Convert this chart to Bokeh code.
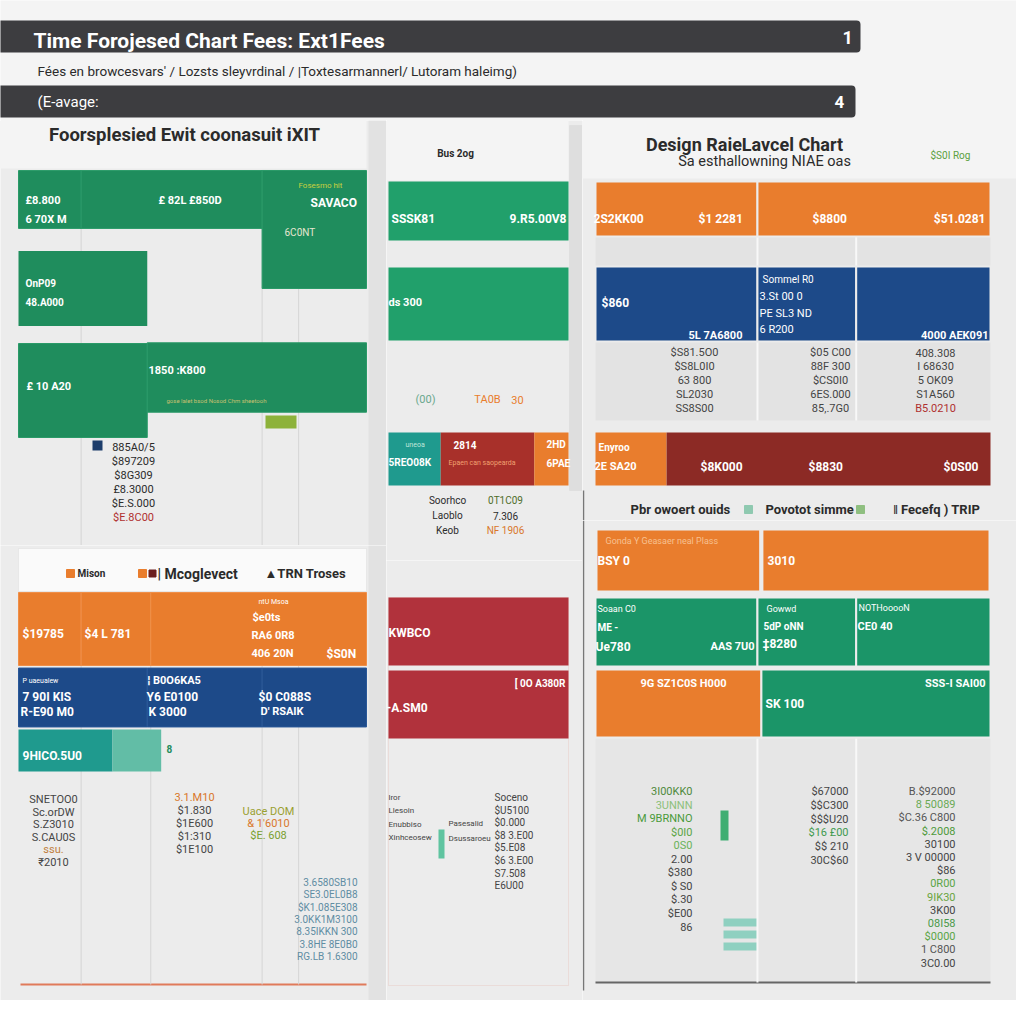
import numpy as np
from bokeh.plotting import figure
from bokeh.models import Range1d, Label, BoxAnnotation
from bokeh.layouts import column, row
from bokeh.embed import file_html
from bokeh.resources import INLINE
from bokeh.core.properties import value

# ---------------------------------------------------------------- data
header_title = "Time Forojesed  Chart Fees: Ext1Fees"
header_subtitle = "Fées en browcesvars' /  Lozsts sleyvrdinal / |Toxtesarmannerl/ Lutoram haleimg)"
header_section = "(E-avage:"
header_pages = ["1", "4"]

# panel 1 (top left)
p1_title = "Foorsplesied Ewit coonasuit iXIT"
p1_row_a = [18, 52, 30]
p1_row_b = [37]
p1_row_c = [37, 63]
p1_ticks = [18, 70, 80.5]
p1_list = ["885A0/5", "$897209", "$8G309", "£8.3000", "$E.S.000", "$E.8C00"]

# panel 2 (top middle)
p2_title = "Bus 2og"
p2_row_a = [100]
p2_row_b = [100]
p2_row_c = [29, 52, 19]
p2_list_left = ["Soorhco", "Laoblo", "Keob"]
p2_list_right = ["0T1C09", "7.306", "NF 1906"]

# panel 3 (top right)
p3_title = "Design RaieLavcel Chart"
p3_subtitle = "Sa esthallowning NIAE oas"
p3_note = "$S0I Rog"
p3_row_a = [41, 59]
p3_row_b = [41, 25, 34]
p3_row_c = [18, 82]
p3_list_1 = ["$S81.5O0", "$S8L0I0", "63 800", "SL2030", "SS8S00"]
p3_list_2 = ["$05 C00", "88F 300", "$CS0I0", "6ES.000", "85,.7G0"]
p3_list_3 = ["408.308", "I 68630", "5 OK09", "S1A560", "B5.0210"]
p3_legend = ["Pbr owoert ouids", "Povotot simme", "‖ Fecefq ) TRIP"]

# panel 4 (bottom left)
p4_legend = ["Mison", "| Mcoglevect", "▲TRN Troses"]
p4_row_a = [18, 20, 62]
p4_row_b = [37, 33, 30]
p4_row_c = [27, 14]
p4_ticks = [18, 38, 70, 80.5]
p4_list_1 = ["SNETOO0", "Sc.orDW", "S.Z3010", "S.CAU0S", "ssu.", "₹2010"]
p4_list_2 = ["3.1.M10", "$1.830", "$1E600", "$1:310", "$1E100"]
p4_list_3 = ["Uace DOM", "& 1'6010", "$E. 608"]
p4_list_4 = ["3.6580SB10", "SE3.0EL0B8", "$K1.085E308", "3.0KK1M3100",
             "8.35IKKN 300", "3.8HE 8E0B0", "RG.LB 1.6300"]

# panel 5 (bottom middle)
p5_row_a = [100]
p5_row_b = [100]
p5_list_left = ["lror", "Llesoin", "Enubbiso", "Xinhceosew"]
p5_list_mid = ["Pasesalid", "Dsussaroeu"]
p5_list_right = ["Soceno", "$U5100", "$0.000", "$8 3.E00", "$5.E08", "$6 3.E00", "S7.508", "E6U00"]

# panel 6 (bottom right)
p6_note = "Gonda Y Geasaer neal Plass"
p6_row_a = [42, 58]
p6_row_b = [41, 25, 34]
p6_row_c = [42, 58]
p6_list_1 = ["3I00KK0", "3UNNN", "M 9BRNNO", "$0I0", "0S0", "2.00", "$380", "$ S0", "$.30", "$E00", "86"]
p6_list_2 = ["$67000", "$$C300", "$$$U20", "$16 £00", "$$ 210", "30C$60"]
p6_list_3 = ["B.$92000", "8 50089", "$C.36 C800", "$.2008", "30100", "3 V 00000", "$86",
             "0R00", "9IK30", "3K00", "08I58", "$0000", "1 C800", "3C0.00"]

# ---------------------------------------------------------------- style
FONT = "Roboto"
BG = "#ececec"
HBG = "#f4f4f4"
DARK = "#3d3d40"
GREEN = "#1f8d5d"
GREEN2 = "#21a06b"
GREEN3 = "#1b9568"
ORANGE = "#e97d2d"
BLUE = "#1d4a89"
DRED = "#8c2a25"
RED = "#b1323c"
TEAL = "#1f9a8e"
LTEAL = "#62bda6"
TXT = "#2b2b2b"


def base_fig(w, h, xr, yr, bg):
    p = figure(width=w, height=h, x_range=xr, y_range=yr, output_backend="svg",
               toolbar_location=None, x_axis_location=None, y_axis_location=None,
               min_border=0, background_fill_color=bg, border_fill_color=bg,
               outline_line_color=None)
    p.grid.visible = False
    return p


class Panel:
    """A panel whose x axis is a 0-100 value scale and whose y axis counts rows."""

    def __init__(self, ox, oy, w, h, bar_l, bar_r, row0, pitch, bg=BG):
        self.ox, self.oy = ox, oy
        self.ppu = (bar_r - bar_l) / 100.0
        self.x0 = bar_l - ox
        self.y0 = row0 - oy
        self.pitch = pitch
        xr = Range1d(-self.x0 / self.ppu, (w - self.x0) / self.ppu)
        yr = Range1d((h - self.y0) / pitch, -self.y0 / pitch)
        self.p = base_fig(w, h, xr, yr, bg)

    def X(self, rx):
        return (rx - self.ox - self.x0) / self.ppu

    def Y(self, ry):
        return (ry - self.oy - self.y0) / self.pitch

    def stack(self, values, y, height, colors, line_color=None, line_width=0):
        vals = np.asarray(values, float)
        n = len(vals)
        lefts = np.concatenate([[0.0], np.cumsum(vals)[:-1]])
        ys = list(np.broadcast_to(np.asarray(y, float), (n,)))
        hs = list(np.broadcast_to(np.asarray(height, float), (n,)))
        cols = colors if isinstance(colors, list) else [colors] * n
        self.p.hbar(y=ys, left=list(lefts), right=list(lefts + vals), height=hs,
                    fill_color=cols, line_color=line_color, line_width=line_width)

    def ticks(self, xs, rt, rb, color="#d5d5d5", width=1):
        self.p.segment(x0=list(xs), x1=list(xs), y0=[self.Y(rt)] * len(xs),
                       y1=[self.Y(rb)] * len(xs), line_color=color, line_width=width)

    def label(self, rx, ry, text, color="white", size=11, bold=True, align="left"):
        self.p.add_layout(Label(x=self.X(rx), y=self.Y(ry), text=text, text_color=color,
                                text_font_size=f"{size}px",
                                text_font_style="bold" if bold else "normal",
                                text_align=align, text_baseline="middle", text_font=FONT))

    def texts(self, rx, ry0, step, items, colors=TXT, size=11, align="center", bold=False):
        n = len(items)
        cols = colors if isinstance(colors, list) else [colors] * n
        self.p.text(x=[self.X(rx)] * n, y=[self.Y(ry0 + i * step) for i in range(n)],
                    text=items, text_color=cols, text_font_size=f"{size}px",
                    text_align=align, text_baseline="middle", text_font=value(FONT),
                    text_font_style="bold" if bold else "normal")

    def box(self, rl, rr, rt, rb, fill, line=None, lw=1):
        self.p.add_layout(BoxAnnotation(left=self.X(rl), right=self.X(rr), top=self.Y(rt),
                                        bottom=self.Y(rb), fill_color=fill,
                                        fill_alpha=1 if fill else 0,
                                        line_color=line, line_width=lw, level="underlay"))

    def squares(self, rxs, ry, colors, size=9):
        self.p.scatter(x=[self.X(v) for v in rxs], y=[self.Y(ry)] * len(rxs),
                       marker="square", size=size, color=colors)


# ---------------------------------------------------------------- header
hdr = base_fig(1016, 120, Range1d(0, 1016), Range1d(120, 0), HBG)
hdr.add_layout(BoxAnnotation(left=-5, right=860, top=20, bottom=52, fill_color=DARK,
                             fill_alpha=1, line_color=None, border_radius=4))
hdr.add_layout(BoxAnnotation(left=-5, right=855, top=85, bottom=117, fill_color=DARK,
                             fill_alpha=1, line_color=None, border_radius=4))
hdr.add_layout(Label(x=33, y=40, text=header_title, text_color="white", text_font_size="21px",
                     text_font_style="bold", text_baseline="middle", text_font=FONT))
hdr.add_layout(Label(x=842, y=37, text=header_pages[0], text_color="white", text_font_size="18px",
                     text_font_style="bold", text_baseline="middle", text_font=FONT))
hdr.add_layout(Label(x=37, y=70, text=header_subtitle, text_color=TXT, text_font_size="13.5px",
                     text_baseline="middle", text_font=FONT))
hdr.add_layout(Label(x=37, y=101, text=header_section, text_color="white", text_font_size="15px",
                     text_baseline="middle", text_font=FONT))
hdr.add_layout(Label(x=834, y=101, text=header_pages[1], text_color="white", text_font_size="17px",
                     text_font_style="bold", text_baseline="middle", text_font=FONT))

# ---------------------------------------------------------------- panel 1
P1 = Panel(0, 120, 386, 425, 18, 366, 199, 89)
P1.box(0, 366, 120, 168, HBG)
P1.box(368, 386, 120, 545, "#e2e2e2")
P1.ticks(p1_ticks, 170, 545)
P1.stack(p1_row_a, [0, 0, 0.337], [0.65, 0.65, 1.326], GREEN, "#2a9a68", 1)
P1.stack(p1_row_b, 1, 0.84, GREEN)
P1.stack(p1_row_c, [2.146, 2], [1.056, 0.78], GREEN, "#2a9a68", 1)
P1.label(184, 134, p1_title, TXT, 18.5, True, "center")
P1.label(25, 200, "£8.800", size=11)
P1.label(25, 219, "6 70X M", size=11)
P1.label(158, 200, "£ 82L £850D", size=11)
P1.label(298, 185, "Fosesmo hit", "#c8d040", 8, False)
P1.label(310, 202, "SAVACO", size=12)
P1.label(284, 232, "6C0NT", "#e6e6d0", 10, False)
P1.label(25, 283, "OnP09", size=10)
P1.label(25, 302, "48.A000", size=10)
P1.label(26, 386, "£ 10 A20", size=11)
P1.label(148, 370, "1850 :K800", size=11)
P1.label(166, 400, "gose lalet bsod Nosod Chm sheetooh", "#c8c070", 6, False)
P1.box(265, 296, 415, 428, "#8db23a")
P1.box(92, 102, 440, 450, "#1d3d6b")
P1.texts(133, 447, 14, p1_list, [TXT] * 5 + ["#b03030"], 11)

# ---------------------------------------------------------------- panel 2
P2 = Panel(386, 120, 196, 440, 388, 568, 210.5, 93)
P2.box(386, 568, 120, 180, HBG)
P2.box(569, 590, 125, 490, "#dedede", "#cfcfcf")
P2.stack(p2_row_a, 0, 0.634, GREEN2)
P2.stack(p2_row_b, 1, 0.785, GREEN2)
P2.stack(p2_row_c, 2.667, 0.57, [TEAL, "#a8302a", ORANGE])
P2.label(455, 153, p2_title, TXT, 10, True, "center")
P2.label(391, 218, "SSSK81", size=12)
P2.label(566, 218, "9.R5.00V8", size=12, align="right")
P2.label(388, 302, "ds 300", size=11)
P2.label(425, 399, "(00)", "#6aa88e", 11, False, "center")
P2.label(487, 399, "TA0B", ORANGE, 11, False, "center")
P2.label(517, 399, "30", ORANGE, 11, False, "center")
P2.label(405, 444, "uneoa", "#bfe6da", 7, False)
P2.label(388, 462, "5REO08K", size=10)
P2.label(453, 444, "2814", size=10)
P2.label(448, 462, "Epaen can saopearda", "#f0a070", 7, False)
P2.label(546, 444, "2HD", size=10)
P2.label(546, 463, "6PAE", size=10)
P2.texts(447, 500, 15, p2_list_left, TXT, 10)
P2.texts(505, 500, 15, p2_list_right, ["#4f6e2a", TXT, "#d9772b"], 10)

# ---------------------------------------------------------------- panel 3
P3 = Panel(582, 120, 434, 400, 595, 990, 208.5, 95)
P3.box(582, 1016, 120, 178, HBG)
P3.box(595, 990, 236, 420, "#e3e3e3")
P3.ticks([p3_row_b[0], p3_row_b[0] + p3_row_b[1]], 236, 420, "#f8f8f8", 2)
P3.ticks([P3.X(583)], 490, 520, "#777777", 1.5)
P3.stack(p3_row_a, 0, 0.58, ORANGE, BG, 2)
P3.stack(p3_row_b, 1, 0.79, BLUE, BG, 2)
P3.stack(p3_row_c, 2.632, 0.558, [ORANGE, DRED], None)
P3.label(744, 144, p3_title, TXT, 18, True, "center")
P3.label(764, 161, p3_subtitle, TXT, 14.5, False, "center")
P3.label(930, 155, p3_note, "#5aa040", 10, False)
P3.label(593, 218, "2S2KK00", size=12)
P3.label(698, 218, "$1 2281", size=12)
P3.label(812, 218, "$8800", size=12)
P3.label(985, 218, "$51.0281", size=12, align="right")
P3.label(601, 302, "$860", size=12)
P3.label(688, 335, "5L 7A6800", size=11)
P3.label(762, 279, "Sommel R0", size=10, bold=False)
P3.label(759, 296, "3.St 00 0", size=11, bold=False)
P3.label(759, 313, "PE SL3 ND", size=11, bold=False)
P3.label(759, 329, "6 R200", size=11, bold=False)
P3.label(988, 335, "4000 AEK091", size=11, align="right")
P3.label(598, 447, "Enyroo", size=10)
P3.label(594, 466, "2E SA20", size=11)
P3.label(700, 466, "$8K000", size=12)
P3.label(808, 466, "$8830", size=12)
P3.label(978, 466, "$0S00", size=12, align="right")
P3.texts(694, 352, 14, p3_list_1, "#444444", 11)
P3.texts(830, 352, 14, p3_list_2, "#444444", 11)
P3.texts(935, 352, 14, p3_list_3, ["#444444"] * 4 + ["#b03030"], 11)
P3.label(630, 509, p3_legend[0], TXT, 13, True)
P3.label(765, 509, p3_legend[1], TXT, 13, True)
P3.label(893, 509, p3_legend[2], TXT, 13, True)
P3.squares([748, 860], 509, ["#8fc9b0", "#8fbf80"], 8)

# ---------------------------------------------------------------- panel 4
P4 = Panel(0, 545, 386, 455, 18, 366, 628.5, 68.5)
P4.box(368, 386, 545, 1000, "#e2e2e2")
P4.ticks(p4_ticks, 592, 984)
P4.box(18, 366, 548, 591, "#fafafa", "#d0d0d0")
P4.stack(p4_row_a, 0, 1.066, ORANGE, "#f08f48", 1)
P4.stack(p4_row_b, 1, 0.86, BLUE, "#2a5898", 1)
P4.stack(p4_row_c, 1.774, 0.613, [TEAL, LTEAL])
P4.box(20, 366, 983, 985, "#e07a5a")
P4.squares([70, 142], 573, [ORANGE, ORANGE], 8)
P4.squares([152], 573, ["#6b1f1f"], 7)
P4.label(77, 573, p4_legend[0], TXT, 10, True)
P4.label(157, 573, p4_legend[1], TXT, 14, True)
P4.label(264, 573, p4_legend[2], TXT, 13, True)
P4.label(22, 633, "$19785", size=12)
P4.label(84, 633, "$4 L 781", size=12)
P4.label(258, 601, "ntU Msoa", size=7, bold=False)
P4.label(252, 617, "$e0ts", size=11)
P4.label(251, 635, "RA6 0R8", size=11)
P4.label(251, 653, "406 20N", size=11)
P4.label(326, 653, "$S0N", size=12)
P4.label(22, 680, "P uaeualew", size=7, bold=False)
P4.label(22, 696, "7 90I KIS", size=12)
P4.label(20, 711, "R-E90 M0", size=12)
P4.label(147, 680, "¦ B0O6KA5", size=11)
P4.label(146, 696, "Y6 E0100", size=12)
P4.label(148, 711, "K 3000", size=12)
P4.label(258, 696, "$0 C088S", size=12)
P4.label(260, 711, "D' RSAIK", size=11)
P4.label(22, 755, "9HICO.5U0", size=12)
P4.label(166, 748, "8", GREEN, 10)
P4.texts(53, 799, 12.5, p4_list_1, ["#444444"] * 4 + ["#c08040", "#444444"], 11)
P4.texts(194, 797, 13, p4_list_2, ["#d9772b"] + ["#444444"] * 4, 11)
P4.texts(268, 811, 12, p4_list_3, ["#9aa030", "#d9772b", "#7aa030"], 11)
P4.texts(357, 882, 12.3, p4_list_4, "#5f8da3", 10, "right")

# ---------------------------------------------------------------- panel 5
P5 = Panel(386, 560, 196, 440, 388, 568, 631, 73)
P5.box(388, 568, 597, 985, None, "#e3b5ad")
P5.stack(p5_row_a, 0, 0.93, RED)
P5.stack(p5_row_b, 1, 0.93, RED)
P5.label(388, 632, "KWBCO", size=12)
P5.label(386, 707, "-A.SM0", size=12)
P5.label(565, 683, "[ 0O A380R", size=10, align="right")
P5.texts(388, 797, 13.3, p5_list_left, "#444444", 8, "left")
P5.texts(448, 823, 15, p5_list_mid, "#444444", 8, "left")
P5.texts(494, 797, 12.6, p5_list_right, "#444444", 10, "left")
P5.box(438, 444, 829, 858, "#5fc4a0")

# ---------------------------------------------------------------- panel 6
P6 = Panel(582, 520, 434, 480, 595, 990, 560, 71.5)
P6.box(595, 990, 738, 982, "#e6e6e6")
P6.ticks([p6_row_b[0], p6_row_b[0] + p6_row_b[1]], 738, 982, "#f8f8f8", 2)
P6.ticks([P6.X(583)], 520, 990, "#777777", 1.5)
P6.stack(p6_row_a, 0, 0.895, ORANGE, BG, 4)
P6.stack(p6_row_b, 1, 0.965, GREEN3, BG, 2)
P6.stack(p6_row_c, 2, 0.95, [ORANGE, GREEN3], BG, 2)
P6.box(595, 990, 981, 983, "#666666")
P6.label(605, 540, p6_note, "#f7c090", 9, False)
P6.label(597, 560, "BSY 0", size=12)
P6.label(767, 560, "3010", size=12)
P6.label(597, 608, "Soaan C0", size=9, bold=False)
P6.label(597, 627, "ME -", size=10)
P6.label(595, 646, "Ue780", size=12)
P6.label(710, 646, "AAS 7U0", size=11)
P6.label(766, 608, "Gowwd", size=9, bold=False)
P6.label(763, 626, "5dP oNN", size=10)
P6.label(762, 643, "‡8280", size=12)
P6.label(858, 607, "NOTHooooN", size=9, bold=False)
P6.label(857, 626, "CE0 40", size=11)
P6.label(640, 683, "9G  SZ1C0S H000", size=11)
P6.label(765, 703, "SK 100", size=12)
P6.label(985, 683, "SSS-I SAI00", size=11, align="right")
P6.texts(692, 791, 13.5, p6_list_1,
         ["#4f8a3c", "#8cc07a", "#4a9a3a", "#5aa545", "#6ab35a"] + ["#444444"] * 6, 11, "right")
P6.texts(848, 791, 13.8, p6_list_2,
         ["#444444"] * 3 + ["#3f9a4f"] + ["#444444"] * 2, 11, "right")
P6.texts(955, 791, 13.2, p6_list_3,
         ["#555555", "#6aaa55", "#555555", "#4f9a3a", "#444444", "#444444", "#444444",
          "#5aa545", "#6aa540", "#444444", "#4a9a4a", "#5aa545", "#555555", "#444444"], 11, "right")
P6.box(720, 728, 810, 840, "#3fae72")
P6.box(723, 757, 918, 926, "#8fd0c0")
P6.box(723, 757, 930, 938, "#8fd0c0")
P6.box(723, 757, 942, 950, "#8fd0c0")

# ---------------------------------------------------------------- layout
layout = column(
    hdr,
    row(column(P1.p, P4.p), column(P2.p, P5.p), column(P3.p, P6.p)),
)

open("out.html", "w").write(file_html(layout, INLINE))
